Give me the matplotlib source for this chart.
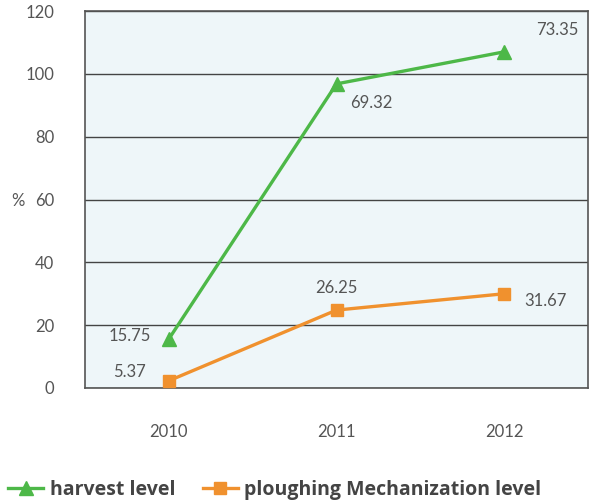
import matplotlib
matplotlib.use("Agg")
import matplotlib.pyplot as plt

# --- Data ---
years = ["2010", "2011", "2012"]
harvest_plot = [15.6, 96.8, 107.0]
harvest_labels = ["15.75", "69.32", "73.35"]
plough_plot = [2.3, 24.8, 30.0]
plough_labels = ["5.37", "26.25", "31.67"]
yticks = [0, 20, 40, 60, 80, 100, 120]

green = "#4DB848"
orange = "#F0912E"
text_col = "#555555"

plt.rcParams['font.family'] = ['Lato', 'DejaVu Sans']

fig = plt.figure(figsize=(5.89, 5.01), dpi=100)
ax = fig.add_axes([85 / 589, 1 - 388 / 501, 503 / 589, 377 / 501])
ax.set_facecolor("#EEF6F9")

x = range(len(years))
ax.plot(x, harvest_plot, color=green, lw=2.4, marker="^", ms=10,
        label="harvest level", zorder=3)
ax.plot(x, plough_plot, color=orange, lw=2.4, marker="s", ms=9,
        label="ploughing Mechanization level", zorder=3)

# data labels (offsets in points)
h_off = [(-28, 2), (25, -14), (38, 16)]
p_off = [(-28, 6), (0, 16), (30, -5)]
for i in x:
    ax.annotate(harvest_labels[i], (i, harvest_plot[i]), xytext=h_off[i],
                textcoords="offset points", ha="center", va="center",
                fontsize=12, color=text_col)
    ax.annotate(plough_labels[i], (i, plough_plot[i]), xytext=p_off[i],
                textcoords="offset points", ha="center", va="center",
                fontsize=12, color=text_col)

ax.set_xlim(-0.5, 2.5)
ax.set_ylim(0, 120)
ax.set_yticks(yticks)
ax.set_xticks(list(x))
ax.set_xticklabels(years)
ax.tick_params(axis="both", length=0, labelsize=12, labelcolor=text_col)
ax.tick_params(axis="y", pad=22)
ax.tick_params(axis="x", pad=26)
ax.yaxis.grid(True, color="#444444", lw=1)
ax.set_axisbelow(True)
for s in ax.spines.values():
    s.set_color("#555555")
    s.set_linewidth(1.2)

fig.text(18 / 589, 1 - 201 / 501, "%", fontsize=12, color=text_col,
         ha="center", va="center")

leg = fig.legend(loc="center left", bbox_to_anchor=(8 / 589, 1 - 490 / 501),
                 ncol=2, frameon=False,
                 prop={"family": "Open Sans", "weight": "bold", "size": 14},
                 handlelength=1.8, columnspacing=1.4, handletextpad=0.35,
                 borderpad=0, borderaxespad=0)
for t in leg.get_texts():
    t.set_color("#444444")

fig.savefig("out.png", dpi=100)
